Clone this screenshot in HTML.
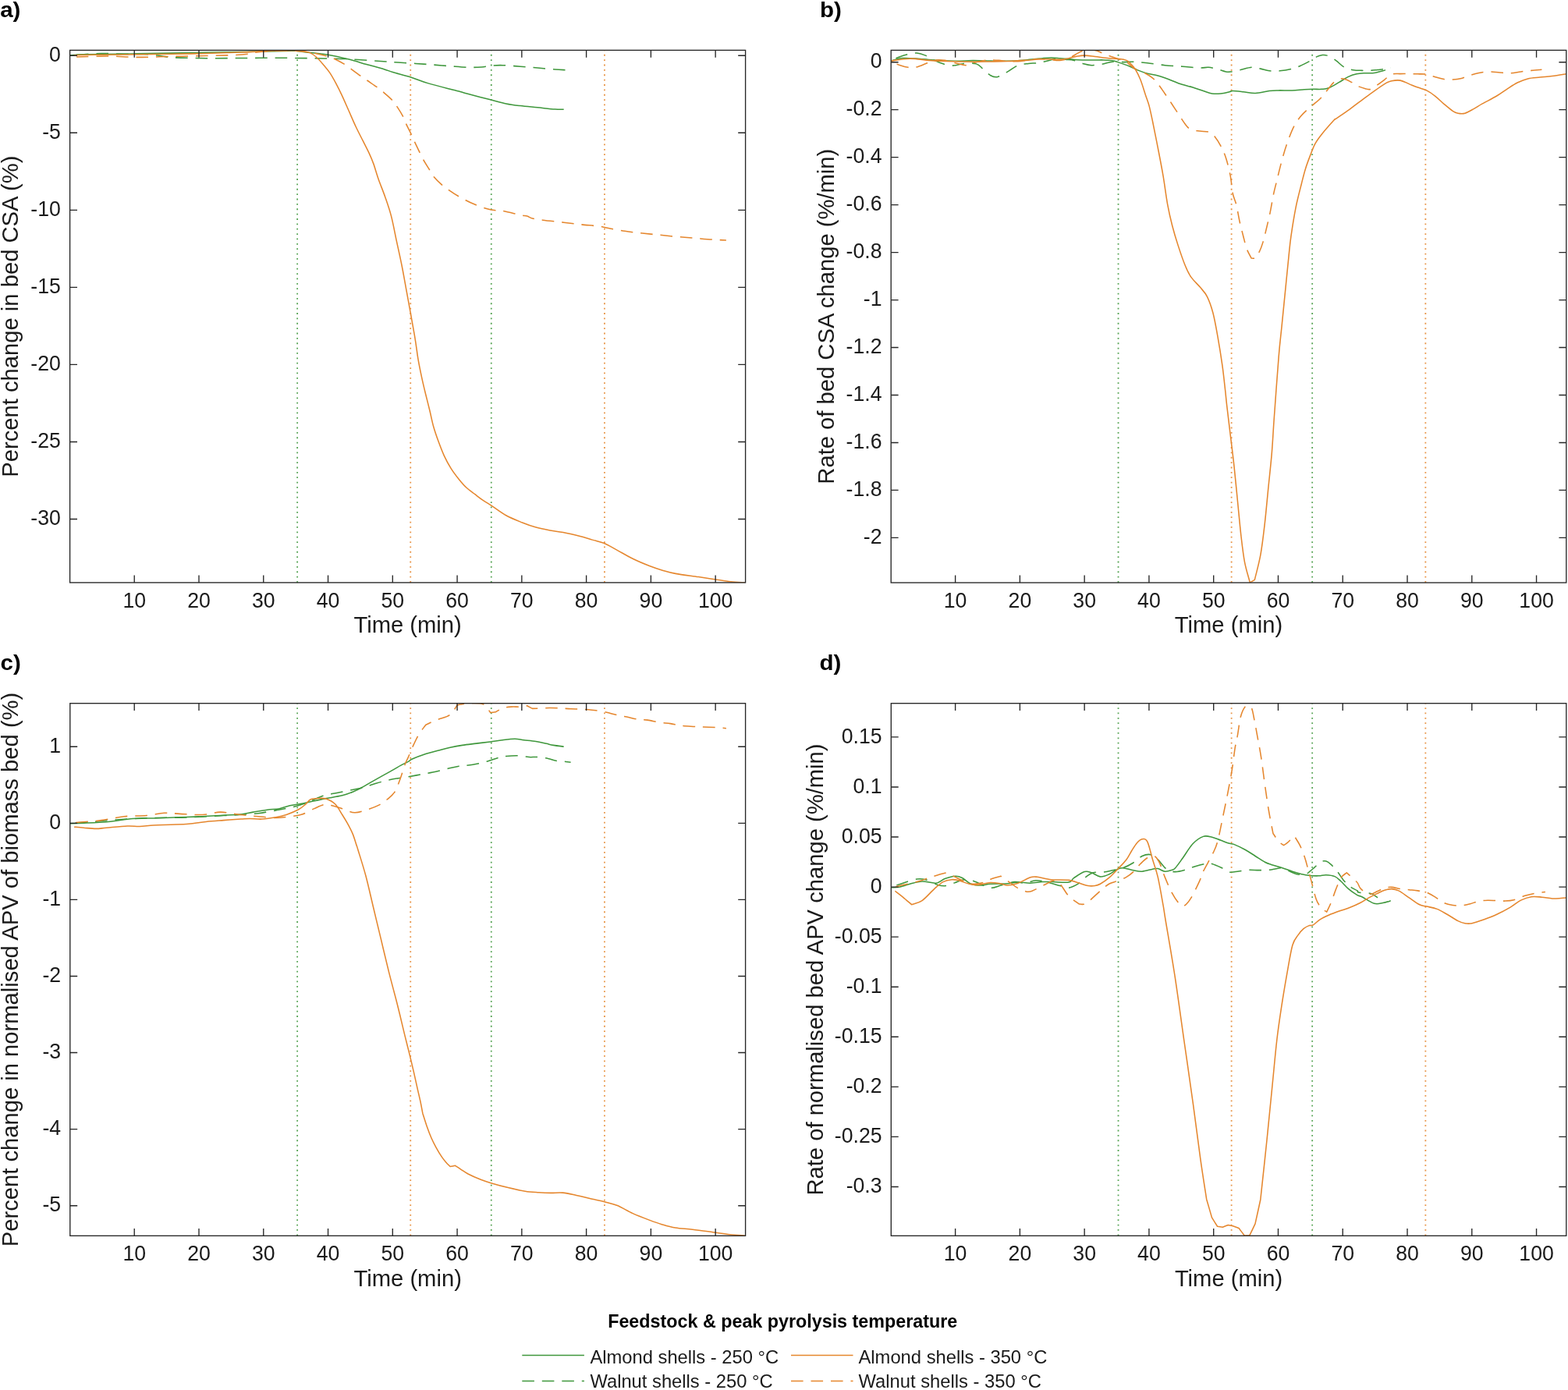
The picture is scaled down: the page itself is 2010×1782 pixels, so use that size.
<!DOCTYPE html>
<html><head><meta charset="utf-8"><title>Figure</title>
<style>html,body{margin:0;padding:0;background:#fff;width:2010px;height:1782px;overflow:hidden}svg{display:block}</style>
</head><body>
<svg width="2010" height="1782" viewBox="0 0 2010 1782">
<defs>
<clipPath id="clipa"><rect x="89.6" y="64.4" width="866" height="682.5"/></clipPath>
<clipPath id="clipb"><rect x="1142.2" y="64.4" width="865.6" height="682.6"/></clipPath>
<clipPath id="clipc"><rect x="89.8" y="901.7" width="865.8" height="682.6"/></clipPath>
<clipPath id="clipd"><rect x="1142.3" y="901.7" width="865.5" height="682.6"/></clipPath>
</defs>
<rect width="2010" height="1782" fill="#fff"/>
<g clip-path="url(#clipa)" fill="none" stroke-width="1.55">
<line x1="381.13" y1="63.5" x2="381.13" y2="746.9" stroke="#3F973C" stroke-width="1.8" stroke-opacity="0.88" stroke-dasharray="1.8 4.57"/>
<line x1="526.23" y1="63.5" x2="526.23" y2="746.9" stroke="#E5862D" stroke-width="1.8" stroke-opacity="0.88" stroke-dasharray="1.8 4.57"/>
<line x1="629.77" y1="63.5" x2="629.77" y2="746.9" stroke="#3F973C" stroke-width="1.8" stroke-opacity="0.88" stroke-dasharray="1.8 4.57"/>
<line x1="774.95" y1="63.5" x2="774.95" y2="746.9" stroke="#E5862D" stroke-width="1.8" stroke-opacity="0.88" stroke-dasharray="1.8 4.57"/>
<path d="M89.48 71.12C92.46 70.9 93.21 70.15 107.39 69.78C121.57 69.4 148.43 69.29 174.55 68.88C200.67 68.47 234.25 67.84 264.1 67.31C293.96 66.79 335 66.08 353.66 65.75C372.31 65.41 371.65 65.37 376.04 65.3C380.44 65.23 376.35 64.95 380 65.33C383.65 65.7 391.22 66.77 397.96 67.57C404.69 68.37 412.17 68.73 420.4 70.15C428.63 71.57 439.11 74.04 447.34 76.1C455.57 78.16 462.3 80.4 469.79 82.5C477.27 84.59 486.62 86.99 492.23 88.67C497.85 90.35 497.85 90.91 503.46 92.6C509.07 94.28 518.42 96.43 525.9 98.77C533.39 101.11 539.33 103.92 548.35 106.63C557.37 109.34 573.33 113.31 580 115.04C586.67 116.78 585.1 116.13 588.36 117.01C591.62 117.9 592.84 118.58 599.55 120.37C606.27 122.16 620.45 125.67 628.66 127.76C636.87 129.85 642.46 131.6 648.81 132.91C655.15 134.22 660 134.78 666.72 135.6C673.43 136.42 681.64 137.09 689.1 137.84C696.57 138.58 705.9 139.66 711.49 140.07C717.09 140.49 720.82 140.26 722.69 140.3" stroke="#3F973C" stroke-linejoin="round"/>
<path d="M89.48 70.67C92.46 70.52 100.67 70.15 107.39 69.78C114.1 69.4 122.31 68.54 129.78 68.43C137.24 68.32 144.7 68.92 152.16 69.1C159.63 69.29 167.84 69.44 174.55 69.55C181.27 69.66 186.87 69.37 192.46 69.78C198.06 70.19 202.91 71.34 208.13 72.01C213.36 72.69 214.48 73.36 223.81 73.81C233.13 74.25 249.93 74.59 264.1 74.7C278.28 74.81 293.96 74.55 308.88 74.48C323.81 74.4 338.73 74.22 353.66 74.25C368.58 74.29 383.51 74.48 398.43 74.7C413.36 74.93 428.28 74.96 443.21 75.6C458.13 76.23 476.85 77.76 487.99 78.51C499.12 79.25 502.6 79.59 510 80.07C517.4 80.56 524.93 80.93 532.39 81.42C539.85 81.9 547.31 82.43 554.78 82.99C562.24 83.54 569.7 84.22 577.16 84.78C584.63 85.34 592.84 86.16 599.55 86.34C606.27 86.53 612.24 86.27 617.46 85.9C622.69 85.52 626.42 84.48 630.9 84.1C635.37 83.73 638.36 83.47 644.33 83.66C650.3 83.84 659.25 84.66 666.72 85.22C674.18 85.78 681.64 86.38 689.1 87.01C696.57 87.65 705.52 88.58 711.49 89.03C717.46 89.48 722.69 89.59 724.93 89.7" stroke="#3F973C" stroke-dasharray="15.6 9.9" stroke-dashoffset="-8.5" stroke-linejoin="round"/>
<path d="M95.07 70.67C100.86 70.6 116.53 70.37 129.78 70.22C143.02 70.07 159.63 69.93 174.55 69.78C189.48 69.63 204.4 69.55 219.33 69.33C234.25 69.1 249.18 68.81 264.1 68.43C279.03 68.06 297.69 67.5 308.88 67.09C320.07 66.68 323.81 66.31 331.27 65.97C338.73 65.63 346.19 65.3 353.66 65.07C361.12 64.85 371.65 64.62 376.04 64.63C380.44 64.63 377.84 64.93 380 65.1C382.16 65.27 385.99 65.19 388.98 65.66C391.97 66.13 395.15 66.6 397.96 67.91C400.76 69.22 403.19 71.18 405.81 73.52C408.43 75.86 410.86 78.66 413.67 81.94C416.48 85.21 419.84 89.04 422.65 93.16C425.45 97.27 427.89 101.76 430.51 106.63C433.12 111.49 435.56 116.35 438.36 122.34C441.17 128.33 444.35 135.81 447.34 142.54C450.33 149.28 453.33 156.38 456.32 162.74C459.31 169.1 462.49 175.09 465.3 180.7C468.1 186.31 470.91 191.55 473.15 196.41C475.4 201.28 476.75 204.28 478.77 209.88C480.78 215.48 482.77 222.91 485.26 230C487.74 237.09 490.96 244.59 493.68 252.45C496.39 260.31 499.1 267.79 501.53 277.15C503.97 286.5 506.02 298.1 508.27 308.58C510.51 319.06 512.95 329.72 515 340.01C517.06 350.3 517.89 355.39 520.62 370.32C523.34 385.24 528.77 414.46 531.34 429.55C533.92 444.64 534.44 451.53 536.05 460.86C537.66 470.2 539.34 477.94 540.99 485.56C542.63 493.17 544.28 499.75 545.93 506.54C547.57 513.33 549.22 519.51 550.86 526.3C552.51 533.09 553.95 540.7 555.8 547.28C557.65 553.87 559.71 559.63 561.98 565.8C564.24 571.98 566.71 578.56 569.38 584.32C572.06 590.08 574.94 595.43 578.02 600.37C581.11 605.31 584.61 609.84 587.9 613.95C591.19 618.07 594.28 621.77 597.78 625.06C601.28 628.35 605.39 631.03 608.89 633.7C612.39 636.38 615.47 638.85 618.77 641.11C622.06 643.37 623.66 644.01 628.64 647.28C633.62 650.56 641.84 657 648.66 660.78C655.48 664.56 663.28 667.46 669.55 669.97C675.82 672.48 680.35 674.15 686.27 675.82C692.19 677.49 699.15 678.89 705.07 680C711 681.11 715.52 681.29 721.79 682.51C728.06 683.73 736.42 685.71 742.69 687.31C748.96 688.92 754.18 690.62 759.4 692.12C764.63 693.62 768.81 694.14 774.03 696.3C779.25 698.46 784.48 701.7 790.75 705.07C797.01 708.45 804.68 713.15 811.64 716.57C818.61 719.98 826.27 723.11 832.54 725.55C838.81 727.99 843.68 729.56 849.25 731.19C854.83 732.83 858.31 733.98 865.97 735.37C873.63 736.77 886.87 738.33 895.22 739.55C903.58 740.77 909.15 741.64 916.12 742.69C923.08 743.73 930.57 745.12 937.01 745.82C943.46 746.52 951.82 746.69 954.78 746.87" stroke="#E5862D" stroke-linejoin="round"/>
<path d="M97.99 72.91C105.15 72.76 128.21 71.94 140.97 72.01C153.73 72.09 161.49 73.28 174.55 73.36C187.61 73.43 204.4 72.76 219.33 72.46C234.25 72.16 251.04 71.87 264.1 71.57C277.16 71.27 288.36 71.12 297.69 70.67C307.01 70.22 314.48 69.55 320.07 68.88C325.67 68.21 325.67 67.24 331.27 66.64C336.87 66.04 346.19 65.56 353.66 65.3C361.12 65.04 368.66 64.73 376.04 65.07C383.43 65.42 390.94 66.22 397.96 67.35C404.98 68.47 413.11 70.53 418.16 71.84C423.21 73.14 424.33 73.42 428.26 75.2C432.19 76.98 438.17 80.35 441.73 82.5C445.28 84.65 446.22 85.68 449.58 88.11C452.95 90.54 458.38 94.56 461.93 97.09C465.48 99.61 467.36 100.83 470.91 103.26C474.46 105.69 479.89 109.25 483.25 111.68C486.62 114.11 487.93 115.14 491.11 117.85C494.29 120.56 499.34 124.77 502.33 127.95C505.33 131.13 506.64 133.28 509.07 136.93C511.5 140.58 515.05 146.28 516.92 149.84C518.8 153.39 518.61 154.61 520.29 158.25C521.98 161.9 525.16 167.79 527.03 171.72C528.9 175.65 529.64 177.8 531.52 181.82C533.39 185.85 536.38 192.02 538.25 195.85C540.12 199.69 540.68 201.18 542.74 204.83C544.8 208.48 548.35 214.09 550.59 217.74C552.84 221.39 553.59 223.54 556.21 226.72C558.83 229.9 563.13 234.01 566.31 236.82C569.49 239.62 571.61 241.02 575.29 243.55C578.96 246.08 582.82 248.93 588.36 252.01C593.9 255.1 601.79 259.29 608.51 262.09C615.22 264.89 622.69 267.43 628.66 268.81C634.63 270.19 637.99 269.25 644.33 270.37C650.67 271.49 661.49 274.4 666.72 275.52C671.94 276.64 673.06 276.34 675.67 277.09C678.28 277.84 679.03 279.14 682.39 280C685.75 280.86 689.1 281.38 695.82 282.24C702.54 283.1 714.48 284.22 722.69 285.15C730.9 286.08 737.61 287.01 745.07 287.84C752.54 288.66 761.87 289.33 767.46 290.07C773.06 290.82 773.06 291.27 778.66 292.31C784.25 293.36 793.58 295.22 801.04 296.34C808.51 297.46 815.97 298.21 823.43 299.03C830.9 299.85 838.36 300.52 845.82 301.27C853.28 302.01 860.75 302.84 868.21 303.51C875.67 304.18 883.13 304.7 890.6 305.3C898.06 305.9 906.27 306.64 912.99 307.09C919.7 307.54 927.91 307.84 930.9 307.99" stroke="#E5862D" stroke-dasharray="15.6 9.9" stroke-linejoin="round"/>
</g>
<g stroke="#262626" stroke-width="1.35" fill="none">
<rect x="89.6" y="64.4" width="866" height="682.5"/>
<path d="M172.22 746.9v-9.4M172.22 64.4v9.4M254.99 746.9v-9.4M254.99 64.4v9.4M337.76 746.9v-9.4M337.76 64.4v9.4M420.53 746.9v-9.4M420.53 64.4v9.4M503.3 746.9v-9.4M503.3 64.4v9.4M586.07 746.9v-9.4M586.07 64.4v9.4M668.84 746.9v-9.4M668.84 64.4v9.4M751.61 746.9v-9.4M751.61 64.4v9.4M834.38 746.9v-9.4M834.38 64.4v9.4M917.15 746.9v-9.4M917.15 64.4v9.4M89.6 71.2h9.4M955.6 71.2h-9.4M89.6 170.25h9.4M955.6 170.25h-9.4M89.6 269.3h9.4M955.6 269.3h-9.4M89.6 368.35h9.4M955.6 368.35h-9.4M89.6 467.4h9.4M955.6 467.4h-9.4M89.6 566.45h9.4M955.6 566.45h-9.4M89.6 665.5h9.4M955.6 665.5h-9.4"/>
</g>
<g font-family="Liberation Sans, Arial, Helvetica, sans-serif" font-size="26.4" fill="#1a1a1a">
<text transform="translate(172.22 778.5) scale(1.01 1.07)" text-anchor="middle">10</text>
<text transform="translate(254.99 778.5) scale(1.01 1.07)" text-anchor="middle">20</text>
<text transform="translate(337.76 778.5) scale(1.01 1.07)" text-anchor="middle">30</text>
<text transform="translate(420.53 778.5) scale(1.01 1.07)" text-anchor="middle">40</text>
<text transform="translate(503.3 778.5) scale(1.01 1.07)" text-anchor="middle">50</text>
<text transform="translate(586.07 778.5) scale(1.01 1.07)" text-anchor="middle">60</text>
<text transform="translate(668.84 778.5) scale(1.01 1.07)" text-anchor="middle">70</text>
<text transform="translate(751.61 778.5) scale(1.01 1.07)" text-anchor="middle">80</text>
<text transform="translate(834.38 778.5) scale(1.01 1.07)" text-anchor="middle">90</text>
<text transform="translate(917.15 778.5) scale(1.01 1.07)" text-anchor="middle">100</text>
<text transform="translate(77.9 78.8) scale(1.01 1.07)" text-anchor="end">0</text>
<text transform="translate(77.9 177.85) scale(1.01 1.07)" text-anchor="end">-5</text>
<text transform="translate(77.9 276.9) scale(1.01 1.07)" text-anchor="end">-10</text>
<text transform="translate(77.9 375.95) scale(1.01 1.07)" text-anchor="end">-15</text>
<text transform="translate(77.9 475) scale(1.01 1.07)" text-anchor="end">-20</text>
<text transform="translate(77.9 574.05) scale(1.01 1.07)" text-anchor="end">-25</text>
<text transform="translate(77.9 673.1) scale(1.01 1.07)" text-anchor="end">-30</text>
</g>
<g font-family="Liberation Sans, Arial, Helvetica, sans-serif" font-size="29.2" fill="#1a1a1a">
<text transform="translate(522.6 811.3) scale(1 1.03)" text-anchor="middle">Time (min)</text>
<text transform="translate(23.4 405.65) rotate(-90) scale(1 1.03)" text-anchor="middle">Percent change in bed CSA (%)</text>
</g>
<text transform="translate(0.2 21.9) scale(1.04 1)" font-family="Liberation Sans, Arial, Helvetica, sans-serif" font-size="28.4" font-weight="bold" fill="#000">a)</text>
<g clip-path="url(#clipb)" fill="none" stroke-width="1.55">
<line x1="1433.53" y1="63.5" x2="1433.53" y2="747" stroke="#3F973C" stroke-width="1.8" stroke-opacity="0.88" stroke-dasharray="1.8 4.57"/>
<line x1="1578.63" y1="63.5" x2="1578.63" y2="747" stroke="#E5862D" stroke-width="1.8" stroke-opacity="0.88" stroke-dasharray="1.8 4.57"/>
<line x1="1682.17" y1="63.5" x2="1682.17" y2="747" stroke="#3F973C" stroke-width="1.8" stroke-opacity="0.88" stroke-dasharray="1.8 4.57"/>
<line x1="1827.35" y1="63.5" x2="1827.35" y2="747" stroke="#E5862D" stroke-width="1.8" stroke-opacity="0.88" stroke-dasharray="1.8 4.57"/>
<path d="M1142.16 78.06C1144.7 77.46 1151.12 74.89 1157.39 74.48C1163.66 74.07 1172.31 75.11 1179.78 75.6C1187.24 76.08 1194.7 76.94 1202.16 77.39C1209.63 77.84 1217.09 78.25 1224.55 78.28C1232.01 78.32 1239.48 77.65 1246.94 77.61C1254.4 77.57 1261.87 77.95 1269.33 78.06C1276.79 78.17 1284.25 78.47 1291.72 78.28C1299.18 78.1 1306.64 77.54 1314.1 76.94C1321.57 76.34 1330.9 75.19 1336.49 74.7C1342.09 74.22 1343.96 74.03 1347.69 74.03C1351.42 74.03 1355.15 74.44 1358.88 74.7C1362.61 74.96 1366.34 75.26 1370.07 75.6C1373.81 75.93 1375.67 76.49 1381.27 76.72C1386.87 76.94 1398.06 76.9 1403.66 76.94C1409.25 76.98 1411.12 76.79 1414.85 76.94C1418.58 77.09 1423.06 77.39 1426.04 77.84C1429.03 78.28 1429.03 78.4 1432.76 79.63C1436.49 80.86 1443.96 83.43 1448.43 85.22C1452.91 87.01 1455.9 88.88 1459.63 90.37C1463.36 91.87 1466.72 93.06 1470.82 94.18C1474.93 95.3 1479.78 95.86 1484.25 97.09C1488.73 98.32 1493.21 99.93 1497.69 101.57C1502.16 103.21 1505.9 105.19 1511.12 106.94C1516.34 108.69 1523.81 110.49 1529.03 112.09C1534.25 113.69 1538.36 115.26 1542.46 116.57C1546.57 117.87 1549.93 119.37 1553.66 119.93C1557.39 120.49 1561.12 120.3 1564.85 119.93C1568.58 119.55 1573.5 118.25 1576.04 117.69C1578.59 117.13 1577.23 116.57 1580.15 116.57C1583.07 116.57 1588.73 117.2 1593.58 117.69C1598.43 118.17 1603.66 119.66 1609.25 119.48C1614.85 119.29 1622.31 117.16 1627.16 116.57C1632.01 115.97 1633.51 116.01 1638.36 115.9C1643.21 115.78 1650.67 116.08 1656.27 115.9C1661.87 115.71 1667.46 115.04 1671.94 114.78C1676.42 114.51 1679.4 114.4 1683.13 114.33C1686.87 114.25 1690.97 114.59 1694.33 114.33C1697.69 114.07 1699.55 114.25 1703.28 112.76C1707.01 111.27 1712.61 107.72 1716.72 105.37C1720.82 103.02 1724.18 100.41 1727.91 98.66C1731.64 96.9 1735.37 95.67 1739.1 94.85C1742.84 94.03 1746.57 93.96 1750.3 93.73C1754.03 93.51 1757.76 93.99 1761.49 93.51C1765.22 93.02 1770.26 91.46 1772.69 90.82C1775.11 90.19 1775.49 89.89 1776.04 89.7" stroke="#3F973C" stroke-linejoin="round"/>
<path d="M1142.16 77.39C1143.96 76.64 1149.25 74.22 1152.91 72.91C1156.57 71.6 1160.37 70.37 1164.1 69.55C1167.84 68.73 1171.57 67.72 1175.3 67.99C1179.03 68.25 1182.76 69.55 1186.49 71.12C1190.22 72.69 1193.96 75.6 1197.69 77.39C1201.42 79.18 1204.78 80.75 1208.88 81.87C1212.99 82.99 1217.84 84.18 1222.31 84.1C1226.79 84.03 1230.9 81.79 1235.75 81.42C1240.6 81.04 1247.31 80.67 1251.42 81.87C1255.52 83.06 1257.39 86.16 1260.37 88.58C1263.36 91.01 1266.34 94.74 1269.33 96.42C1272.31 98.1 1274.55 99.4 1278.28 98.66C1282.01 97.91 1287.24 94.44 1291.72 91.94C1296.19 89.44 1300.67 85.41 1305.15 83.66C1309.63 81.9 1314.48 81.9 1318.58 81.42C1322.69 80.93 1326.04 81.23 1329.78 80.75C1333.51 80.26 1336.87 79.44 1340.97 78.51C1345.07 77.57 1350.3 75.52 1354.4 75.15C1358.51 74.78 1361.87 75.9 1365.6 76.27C1369.33 76.64 1373.06 76.53 1376.79 77.39C1380.52 78.25 1384.25 80.37 1387.99 81.42C1391.72 82.46 1395.07 83.51 1399.18 83.66C1403.28 83.81 1408.13 83.06 1412.61 82.31C1417.09 81.57 1421.57 79.63 1426.04 79.18C1430.52 78.73 1435 79.63 1439.48 79.63C1443.96 79.63 1447.69 78.99 1452.91 79.18C1458.13 79.37 1464.1 80 1470.82 80.75C1477.54 81.49 1485.75 82.91 1493.21 83.66C1500.67 84.4 1508.13 84.66 1515.6 85.22C1523.06 85.78 1532.39 86.83 1537.99 87.01C1543.58 87.2 1545.45 86.08 1549.18 86.34C1552.91 86.6 1556.64 87.65 1560.37 88.58C1564.1 89.51 1568.64 91.38 1571.57 91.94C1574.49 92.5 1574.99 92.31 1577.91 91.94C1580.83 91.57 1584.63 90.63 1589.1 89.7C1593.58 88.77 1600.3 86.6 1604.78 86.34C1609.25 86.08 1612.24 87.39 1615.97 88.13C1619.7 88.88 1623.06 90.37 1627.16 90.82C1631.27 91.27 1635.75 91.27 1640.6 90.82C1645.45 90.37 1651.79 89.25 1656.27 88.13C1660.75 87.01 1663.73 85.71 1667.46 84.1C1671.19 82.5 1675.3 80.37 1678.66 78.51C1682.01 76.64 1685 74.22 1687.61 72.91C1690.22 71.6 1692.09 70.97 1694.33 70.67C1696.57 70.37 1698.06 70 1701.04 71.12C1704.03 72.24 1708.51 74.85 1712.24 77.39C1715.97 79.93 1719.7 84.29 1723.43 86.34C1727.16 88.4 1730.9 89.03 1734.63 89.7C1738.36 90.37 1742.09 90.26 1745.82 90.37C1749.55 90.49 1753.66 90.52 1757.01 90.37C1760.37 90.22 1762.99 89.78 1765.97 89.48C1768.96 89.18 1772.13 88.99 1774.93 88.58C1777.72 88.17 1781.46 87.28 1782.76 87.01" stroke="#3F973C" stroke-dasharray="15.6 9.9" stroke-dashoffset="-6.8" stroke-linejoin="round"/>
<path d="M1142.16 78.06C1146.19 77.57 1158.21 75.26 1166.34 75.15C1174.48 75.04 1183.13 76.83 1190.97 77.39C1198.81 77.95 1204.03 78.21 1213.36 78.51C1222.69 78.81 1237.61 79.1 1246.94 79.18C1256.27 79.25 1261.87 79.07 1269.33 78.96C1276.79 78.84 1284.25 78.77 1291.72 78.51C1299.18 78.25 1306.64 77.84 1314.1 77.39C1321.57 76.94 1329.03 76.01 1336.49 75.82C1343.96 75.63 1353.28 76.46 1358.88 76.27C1364.48 76.08 1366.34 75.41 1370.07 74.7C1373.81 73.99 1377.91 72.61 1381.27 72.01C1384.63 71.42 1386.49 71.04 1390.22 71.12C1393.96 71.19 1398.43 71.87 1403.66 72.46C1408.88 73.06 1416.34 74.18 1421.57 74.7C1426.79 75.22 1431.27 75.15 1435 75.6C1438.73 76.04 1441.72 76.53 1443.96 77.39C1446.19 78.25 1446.57 78.88 1448.43 80.75C1450.3 82.61 1452.91 85.04 1455.15 88.58C1457.39 92.13 1459.63 96.42 1461.87 102.01C1464.1 107.61 1466.72 116.57 1468.58 122.16C1470.45 127.76 1471.57 130 1473.06 135.6C1474.55 141.19 1475.67 146.79 1477.54 155.75C1479.4 164.7 1482.01 177.76 1484.25 189.33C1486.49 200.9 1488.89 212.97 1490.97 225.15C1493.05 237.33 1494.76 251.7 1496.72 262.39C1498.67 273.07 1500.45 280.55 1502.69 289.25C1504.93 297.96 1507.41 306.17 1510.15 314.63C1512.89 323.08 1516.37 333.28 1519.1 340C1521.84 346.72 1523.33 350.2 1526.57 354.93C1529.8 359.65 1535.02 364.13 1538.51 368.36C1541.99 372.59 1544.73 374.83 1547.46 380.3C1550.2 385.77 1552.69 392.74 1554.93 401.19C1557.16 409.65 1558.91 419.85 1560.9 431.04C1562.89 442.24 1565.25 456.87 1566.87 468.36C1568.48 479.85 1569.62 491.34 1570.6 500C1571.57 508.66 1571.61 510.61 1572.73 520.3C1573.84 530 1575.76 545.56 1577.27 558.18C1578.79 570.81 1580.3 582.17 1581.82 596.06C1583.33 609.95 1584.85 626.36 1586.36 641.52C1587.88 656.67 1589.39 673.84 1590.91 686.97C1592.42 700.1 1593.56 710.33 1595.45 720.3C1597.35 730.28 1600.23 738.86 1602.27 746.82C1604.09 745.77 1606.52 744.38 1608.33 743.33C1610.61 733.7 1613.76 723.13 1615.91 711.21C1618.06 699.29 1619.57 685.96 1621.21 671.82C1622.85 657.68 1624.24 641.52 1625.76 626.36C1627.27 611.21 1629.04 596.06 1630.3 580.91C1631.57 565.76 1631.84 556.2 1633.33 535.45C1634.83 514.71 1637.65 475.81 1639.25 456.42C1640.86 437.03 1641.62 432.79 1642.99 419.1C1644.35 405.42 1645.97 389.25 1647.46 374.33C1648.96 359.4 1650.69 341.47 1651.94 329.55C1653.19 317.64 1653.41 313.46 1654.94 302.84C1656.47 292.21 1658.85 277.12 1661.11 265.8C1663.37 254.49 1666.46 243.17 1668.52 234.94C1670.58 226.71 1671.6 222.39 1673.46 216.42C1675.31 210.45 1677.57 204.49 1679.63 199.14C1681.69 193.79 1683.33 188.85 1685.8 184.32C1688.27 179.79 1690.41 177.02 1694.44 171.98C1698.48 166.93 1707.03 157.34 1710 154.07C1712.97 150.81 1708.88 154.72 1712.24 152.39C1715.6 150.05 1723.43 144.93 1730.15 140.07C1736.87 135.22 1745.07 128.69 1752.54 123.28C1760 117.87 1769.7 110.86 1774.93 107.61C1780.15 104.37 1780.52 104.55 1783.88 103.81C1787.24 103.06 1791.34 102.5 1795.07 103.13C1798.81 103.77 1802.54 106.12 1806.27 107.61C1810 109.1 1813.73 110.71 1817.46 112.09C1821.19 113.47 1824.93 114.03 1828.66 115.9C1832.39 117.76 1836.12 120.37 1839.85 123.28C1843.58 126.19 1847.31 130.19 1851.04 133.36C1854.78 136.53 1859.25 140.34 1862.24 142.31C1865.22 144.29 1866.34 144.74 1868.96 145.22C1871.57 145.71 1874.55 146.16 1877.91 145.22C1881.27 144.29 1885.37 141.68 1889.1 139.63C1892.84 137.57 1895.45 135.63 1900.3 132.91C1905.15 130.19 1912.99 126.38 1918.21 123.28C1923.43 120.19 1927.16 117.2 1931.64 114.33C1936.12 111.46 1940.6 108.28 1945.07 106.04C1949.55 103.81 1953.66 102.05 1958.51 100.9C1963.36 99.74 1968.96 99.66 1974.18 99.1C1979.4 98.54 1984.07 98.28 1989.85 97.54C1995.63 96.79 2005.71 95.11 2008.88 94.63" stroke="#E5862D" stroke-linejoin="round"/>
<path d="M1149.55 82.31C1151.98 82.99 1159.81 85.75 1164.1 86.34C1168.4 86.94 1171.19 86.83 1175.3 85.9C1179.4 84.96 1184.63 82.24 1188.73 80.75C1192.84 79.25 1196.19 77.5 1199.93 76.94C1203.66 76.38 1207.01 76.75 1211.12 77.39C1215.22 78.02 1220.07 79.7 1224.55 80.75C1229.03 81.79 1234.25 83.66 1237.99 83.66C1241.72 83.66 1243.21 81.72 1246.94 80.75C1250.67 79.78 1256.64 78.47 1260.37 77.84C1264.1 77.2 1265.97 77.01 1269.33 76.94C1272.69 76.87 1276.79 77.13 1280.52 77.39C1284.25 77.65 1287.61 78.28 1291.72 78.51C1295.82 78.73 1300.67 78.99 1305.15 78.73C1309.63 78.47 1314.1 77.46 1318.58 76.94C1323.06 76.42 1327.54 75.67 1332.01 75.6C1336.49 75.52 1340.97 76.19 1345.45 76.49C1349.93 76.79 1354.78 77.69 1358.88 77.39C1362.99 77.09 1366.34 76.19 1370.07 74.7C1373.81 73.21 1378.28 70.04 1381.27 68.43C1384.25 66.83 1385.37 65.9 1387.99 65.07C1390.6 64.25 1393.96 63.51 1396.94 63.51C1399.93 63.51 1402.16 63.88 1405.9 65.07C1409.63 66.27 1414.85 68.99 1419.33 70.67C1423.81 72.35 1428.66 73.66 1432.76 75.15C1436.87 76.64 1440.22 77.39 1443.96 79.63C1447.69 81.87 1451.42 86.34 1455.15 88.58C1458.88 90.82 1462.24 90.82 1466.34 93.06C1470.45 95.3 1475.3 97.54 1479.78 102.01C1484.25 106.49 1488.73 113.58 1493.21 119.93C1497.69 126.27 1502.16 133.36 1506.64 140.07C1511.12 146.79 1516.72 155.93 1520.07 160.22C1523.43 164.51 1523.81 164.51 1526.79 165.82C1529.78 167.13 1534.25 167.5 1537.99 168.06C1541.72 168.62 1546.19 168.25 1549.18 169.18C1552.16 170.11 1553.28 170.67 1555.9 173.66C1558.51 176.64 1562.24 182.24 1564.85 187.09C1567.46 191.94 1569.51 196.42 1571.57 202.76C1573.62 209.1 1575.71 217.57 1577.16 225.15C1578.62 232.72 1579.03 242 1580.3 248.21C1581.57 254.42 1583.28 256.29 1584.78 262.39C1586.27 268.48 1587.76 278.06 1589.25 284.78C1590.75 291.49 1592.24 296.97 1593.73 302.69C1595.22 308.41 1596.47 314.38 1598.21 319.1C1599.95 323.83 1602.39 327.46 1604.18 331.04C1605.52 331.13 1607.31 331.25 1608.66 331.34C1610.45 328.57 1612.89 325.62 1614.63 322.09C1616.37 318.56 1617.61 315.12 1619.1 310.15C1620.6 305.17 1622.09 298.46 1623.58 292.24C1625.07 286.02 1626.57 280.05 1628.06 272.84C1629.55 265.62 1631.19 255.41 1632.54 248.96C1633.88 242.5 1634.4 241.06 1636.12 234.1C1637.84 227.15 1640.6 215.45 1642.84 207.24C1645.07 199.03 1646.94 192.31 1649.55 184.85C1652.16 177.39 1655.52 168.43 1658.51 162.46C1661.49 156.49 1664.48 152.76 1667.46 149.03C1670.45 145.3 1673.81 142.5 1676.42 140.07C1679.03 137.65 1680.15 137.09 1683.13 134.48C1686.12 131.87 1690.97 127.95 1694.33 124.4C1697.69 120.86 1700.67 116.38 1703.28 113.21C1705.9 110.04 1707.39 107.43 1710 105.37C1712.61 103.32 1716.34 101.46 1718.96 100.9C1721.57 100.34 1723.43 101.27 1725.67 102.01C1727.91 102.76 1730.15 104.07 1732.39 105.37C1734.63 106.68 1736.12 108.47 1739.1 109.85C1742.09 111.23 1747.31 112.91 1750.3 113.66C1753.28 114.4 1754.4 115.15 1757.01 114.33C1759.63 113.51 1762.99 110.78 1765.97 108.73C1768.96 106.68 1771.94 104.25 1774.93 102.01C1777.91 99.78 1780.52 96.53 1783.88 95.3C1787.24 94.07 1791.34 94.74 1795.07 94.63C1798.81 94.51 1802.54 94.59 1806.27 94.63C1810 94.66 1813.73 94.74 1817.46 94.85C1821.19 94.96 1824.93 94.66 1828.66 95.3C1832.39 95.93 1836.12 97.61 1839.85 98.66C1843.58 99.7 1847.31 101.01 1851.04 101.57C1854.78 102.13 1858.51 102.2 1862.24 102.01C1865.97 101.83 1869.7 101.38 1873.43 100.45C1877.16 99.51 1880.9 97.57 1884.63 96.42C1888.36 95.26 1891.72 94.25 1895.82 93.51C1899.93 92.76 1904.78 92.01 1909.25 91.94C1913.73 91.87 1918.21 92.76 1922.69 93.06C1927.16 93.36 1931.64 93.92 1936.12 93.73C1940.6 93.54 1945.07 92.5 1949.55 91.94C1954.03 91.38 1958.51 90.82 1962.99 90.37C1967.46 89.93 1974.18 89.44 1976.42 89.25" stroke="#E5862D" stroke-dasharray="15.6 9.9" stroke-linejoin="round"/>
</g>
<g stroke="#262626" stroke-width="1.35" fill="none">
<rect x="1142.2" y="64.4" width="865.6" height="682.6"/>
<path d="M1224.62 747v-9.4M1224.62 64.4v9.4M1307.39 747v-9.4M1307.39 64.4v9.4M1390.16 747v-9.4M1390.16 64.4v9.4M1472.93 747v-9.4M1472.93 64.4v9.4M1555.7 747v-9.4M1555.7 64.4v9.4M1638.47 747v-9.4M1638.47 64.4v9.4M1721.24 747v-9.4M1721.24 64.4v9.4M1804.01 747v-9.4M1804.01 64.4v9.4M1886.78 747v-9.4M1886.78 64.4v9.4M1969.55 747v-9.4M1969.55 64.4v9.4M1142.2 79.7h9.4M2007.8 79.7h-9.4M1142.2 140.67h9.4M2007.8 140.67h-9.4M1142.2 201.64h9.4M2007.8 201.64h-9.4M1142.2 262.61h9.4M2007.8 262.61h-9.4M1142.2 323.58h9.4M2007.8 323.58h-9.4M1142.2 384.55h9.4M2007.8 384.55h-9.4M1142.2 445.52h9.4M2007.8 445.52h-9.4M1142.2 506.49h9.4M2007.8 506.49h-9.4M1142.2 567.46h9.4M2007.8 567.46h-9.4M1142.2 628.43h9.4M2007.8 628.43h-9.4M1142.2 689.4h9.4M2007.8 689.4h-9.4"/>
</g>
<g font-family="Liberation Sans, Arial, Helvetica, sans-serif" font-size="26.4" fill="#1a1a1a">
<text transform="translate(1224.62 778.6) scale(1.01 1.07)" text-anchor="middle">10</text>
<text transform="translate(1307.39 778.6) scale(1.01 1.07)" text-anchor="middle">20</text>
<text transform="translate(1390.16 778.6) scale(1.01 1.07)" text-anchor="middle">30</text>
<text transform="translate(1472.93 778.6) scale(1.01 1.07)" text-anchor="middle">40</text>
<text transform="translate(1555.7 778.6) scale(1.01 1.07)" text-anchor="middle">50</text>
<text transform="translate(1638.47 778.6) scale(1.01 1.07)" text-anchor="middle">60</text>
<text transform="translate(1721.24 778.6) scale(1.01 1.07)" text-anchor="middle">70</text>
<text transform="translate(1804.01 778.6) scale(1.01 1.07)" text-anchor="middle">80</text>
<text transform="translate(1886.78 778.6) scale(1.01 1.07)" text-anchor="middle">90</text>
<text transform="translate(1969.55 778.6) scale(1.01 1.07)" text-anchor="middle">100</text>
<text transform="translate(1130.5 87.3) scale(1.01 1.07)" text-anchor="end">0</text>
<text transform="translate(1130.5 148.27) scale(1.01 1.07)" text-anchor="end">-0.2</text>
<text transform="translate(1130.5 209.24) scale(1.01 1.07)" text-anchor="end">-0.4</text>
<text transform="translate(1130.5 270.21) scale(1.01 1.07)" text-anchor="end">-0.6</text>
<text transform="translate(1130.5 331.18) scale(1.01 1.07)" text-anchor="end">-0.8</text>
<text transform="translate(1130.5 392.15) scale(1.01 1.07)" text-anchor="end">-1</text>
<text transform="translate(1130.5 453.12) scale(1.01 1.07)" text-anchor="end">-1.2</text>
<text transform="translate(1130.5 514.09) scale(1.01 1.07)" text-anchor="end">-1.4</text>
<text transform="translate(1130.5 575.06) scale(1.01 1.07)" text-anchor="end">-1.6</text>
<text transform="translate(1130.5 636.03) scale(1.01 1.07)" text-anchor="end">-1.8</text>
<text transform="translate(1130.5 697) scale(1.01 1.07)" text-anchor="end">-2</text>
</g>
<g font-family="Liberation Sans, Arial, Helvetica, sans-serif" font-size="29.2" fill="#1a1a1a">
<text transform="translate(1575 811.4) scale(1 1.03)" text-anchor="middle">Time (min)</text>
<text transform="translate(1069.1 405.7) rotate(-90) scale(1 1.03)" text-anchor="middle">Rate of bed CSA change (%/min)</text>
</g>
<text transform="translate(1051 21.9) scale(1.04 1)" font-family="Liberation Sans, Arial, Helvetica, sans-serif" font-size="28.4" font-weight="bold" fill="#000">b)</text>
<g clip-path="url(#clipc)" fill="none" stroke-width="1.55">
<line x1="381.13" y1="900.8" x2="381.13" y2="1584.3" stroke="#3F973C" stroke-width="1.8" stroke-opacity="0.88" stroke-dasharray="1.8 4.57"/>
<line x1="526.23" y1="900.8" x2="526.23" y2="1584.3" stroke="#E5862D" stroke-width="1.8" stroke-opacity="0.88" stroke-dasharray="1.8 4.57"/>
<line x1="629.77" y1="900.8" x2="629.77" y2="1584.3" stroke="#3F973C" stroke-width="1.8" stroke-opacity="0.88" stroke-dasharray="1.8 4.57"/>
<line x1="774.95" y1="900.8" x2="774.95" y2="1584.3" stroke="#E5862D" stroke-width="1.8" stroke-opacity="0.88" stroke-dasharray="1.8 4.57"/>
<path d="M89.48 1055.67C92.46 1055.6 99.18 1055.6 107.39 1055.22C115.6 1054.85 128.28 1054.4 138.73 1053.43C149.18 1052.46 160.37 1050.15 170.07 1049.4C179.78 1048.66 187.24 1049.22 196.94 1048.96C206.64 1048.69 217.84 1048.21 228.28 1047.84C238.73 1047.46 249.93 1047.16 259.63 1046.72C269.33 1046.27 278.28 1045.6 286.49 1045.15C294.7 1044.7 302.54 1044.7 308.88 1044.03C315.22 1043.36 318.96 1042.09 324.55 1041.12C330.15 1040.15 336.87 1038.96 342.46 1038.21C348.06 1037.46 353.28 1037.54 358.13 1036.64C362.99 1035.75 367.09 1033.84 371.57 1032.84C376.04 1031.83 380.52 1031.46 385 1030.6C389.48 1029.74 393.21 1028.81 398.43 1027.69C403.66 1026.57 409.63 1025.19 416.34 1023.88C423.06 1022.57 432.39 1021.46 438.73 1019.85C445.07 1018.25 449.93 1016.12 454.4 1014.25C458.88 1012.39 461.49 1010.9 465.6 1008.66C469.7 1006.42 473.43 1003.99 479.03 1000.82C484.63 997.65 493.21 992.99 499.18 989.63C505.15 986.27 510.75 982.91 514.85 980.67C518.96 978.43 521.63 977.43 523.81 976.19C525.98 974.96 524.61 974.78 527.91 973.28C531.21 971.79 537.61 969.18 543.58 967.24C549.55 965.3 558.13 963.13 563.73 961.64C569.33 960.15 572.31 959.33 577.16 958.28C582.01 957.24 587.24 956.23 592.84 955.37C598.43 954.51 604.78 953.88 610.75 953.13C616.72 952.39 623.06 951.64 628.66 950.9C634.25 950.15 639.1 949.25 644.33 948.66C649.55 948.06 655.52 947.31 660 947.31C664.48 947.31 666.72 948.13 671.19 948.66C675.67 949.18 682.01 949.66 686.87 950.45C691.72 951.23 696.57 952.54 700.3 953.36C704.03 954.18 705.52 954.74 709.25 955.37C712.99 956.01 720.45 956.87 722.69 957.16" stroke="#3F973C" stroke-linejoin="round"/>
<path d="M89.48 1055.67C94.33 1055.3 108.13 1054.25 118.58 1053.43C129.03 1052.61 139.1 1051.57 152.16 1050.75C165.22 1049.93 182.01 1048.99 196.94 1048.51C211.87 1048.02 226.79 1048.32 241.72 1047.84C256.64 1047.35 274.18 1046.23 286.49 1045.6C298.81 1044.96 308.13 1044.51 315.6 1044.03C323.06 1043.54 324.93 1043.54 331.27 1042.69C337.61 1041.83 346.19 1040.26 353.66 1038.88C361.12 1037.5 369.33 1036.08 376.04 1034.4C382.76 1032.72 387.61 1031.16 393.96 1028.81C400.3 1026.46 407.76 1022.35 414.1 1020.3C420.45 1018.25 425.3 1017.87 432.01 1016.49C438.73 1015.11 448.81 1013.13 454.4 1012.01C460 1010.9 461.49 1010.9 465.6 1009.78C469.7 1008.66 473.43 1006.98 479.03 1005.3C484.63 1003.62 491.72 1001.31 499.18 999.7C506.64 998.1 517.15 996.79 523.81 995.67C530.46 994.55 533.94 993.92 539.1 992.99C544.27 992.05 549.18 991.27 554.78 990.07C560.37 988.88 567.09 987.13 572.69 985.82C578.28 984.51 582.76 983.17 588.36 982.24C593.96 981.31 600.3 981.23 606.27 980.22C612.24 979.22 618.58 977.72 624.18 976.19C629.78 974.66 635.75 972.16 639.85 971.04C643.96 969.93 644.7 969.85 648.81 969.48C652.91 969.1 659.63 968.62 664.48 968.81C669.33 968.99 673.81 970.3 677.91 970.6C682.01 970.9 685 970.3 689.1 970.6C693.21 970.9 698.81 971.64 702.54 972.39C706.27 973.13 708.13 974.44 711.49 975.07C714.85 975.71 719.33 975.82 722.69 976.19C726.04 976.57 730.15 977.13 731.64 977.31" stroke="#3F973C" stroke-dasharray="15.6 9.9" stroke-dashoffset="-7.2" stroke-linejoin="round"/>
<path d="M95.07 1060.15C97.13 1060.34 102.72 1060.9 107.39 1061.27C112.05 1061.64 118.21 1062.39 123.06 1062.39C127.91 1062.39 129.78 1061.83 136.49 1061.27C143.21 1060.71 156.27 1059.33 163.36 1059.03C170.45 1058.73 173.43 1059.66 179.03 1059.48C184.63 1059.29 190.22 1058.28 196.94 1057.91C203.66 1057.54 211.87 1057.5 219.33 1057.24C226.79 1056.98 234.25 1056.98 241.72 1056.34C249.18 1055.71 256.64 1054.22 264.1 1053.43C271.57 1052.65 279.03 1052.2 286.49 1051.64C293.96 1051.08 303.28 1050.45 308.88 1050.07C314.48 1049.7 315.6 1049.4 320.07 1049.4C324.55 1049.4 330.15 1050.34 335.75 1050.07C341.34 1049.81 348.43 1048.77 353.66 1047.84C358.88 1046.9 362.24 1046.16 367.09 1044.48C371.94 1042.8 378.66 1040 382.76 1037.76C386.87 1035.52 389.1 1033.21 391.72 1031.04C394.33 1028.88 395.45 1026.04 398.43 1024.78C401.42 1023.51 406.27 1023.51 409.63 1023.43C412.99 1023.36 415.22 1023.06 418.58 1024.33C421.94 1025.6 426.42 1027.69 429.78 1031.04C433.13 1034.4 436.12 1040.37 438.73 1044.48C441.34 1048.58 443.21 1051.57 445.45 1055.67C447.69 1059.78 450.3 1064.63 452.16 1069.1C454.03 1073.58 455.49 1079.05 456.64 1082.54C457.79 1086.02 457.03 1083.33 459.06 1090C461.09 1096.67 465.57 1110.34 468.82 1122.55C472.07 1134.75 475.33 1149.67 478.58 1163.23C481.84 1176.79 485.09 1190.35 488.35 1203.91C491.6 1217.47 494.86 1231.58 498.11 1244.6C501.37 1257.62 505.5 1272.79 507.88 1282.03C510.25 1291.26 510.54 1292.49 512.37 1300C514.2 1307.51 516.78 1318.65 518.85 1327.09C520.91 1335.53 522.77 1342.6 524.73 1350.65C526.7 1358.7 528.86 1367.73 530.62 1375.38C532.39 1383.04 533.96 1390.5 535.34 1396.58C536.71 1402.67 537.79 1406.79 538.87 1411.9C539.95 1417 540.93 1422.61 541.81 1427.21C543.4 1432.16 545.25 1438.4 547.11 1443.7C548.98 1449 551.04 1454.5 553 1459.01C554.97 1463.53 556.73 1466.86 558.89 1470.79C561.05 1474.72 563.8 1479.33 565.96 1482.57C568.12 1485.81 569.98 1488.06 571.85 1490.22C573.71 1492.38 575.56 1493.93 577.15 1495.52C579.09 1495.17 581.68 1494.7 583.63 1494.35C585.75 1495.76 587.97 1497.29 590.69 1499.06C593.42 1500.82 595.73 1502.74 600 1504.95C604.27 1507.15 611.41 1510.34 616.32 1512.29C621.23 1514.24 623.62 1514.95 629.45 1516.67C635.29 1518.38 644.05 1520.83 651.34 1522.58C658.64 1524.33 666.67 1526.15 673.23 1527.17C679.8 1528.2 685.27 1528.34 690.75 1528.71C696.22 1529.07 700.96 1529.29 706.07 1529.36C711.18 1529.44 715.92 1528.63 721.39 1529.14C726.87 1529.66 732.34 1531.04 738.91 1532.43C745.47 1533.81 754.78 1536.08 760.8 1537.46C766.82 1538.85 769.92 1539.4 775.02 1540.75C780.13 1542.1 785.42 1543.08 791.44 1545.56C797.46 1548.04 804.21 1552.49 811.14 1555.63C818.08 1558.77 826.83 1562.05 833.03 1564.39C839.24 1566.72 842.89 1568.04 848.36 1569.64C853.83 1571.25 859.3 1572.93 865.87 1574.02C872.44 1575.11 879.73 1575.26 887.76 1576.21C895.79 1577.16 906 1578.62 914.03 1579.71C922.06 1580.81 929.17 1582.05 935.92 1582.78C942.67 1583.51 951.43 1583.87 954.53 1584.09" stroke="#E5862D" stroke-linejoin="round"/>
<path d="M97.31 1054.55C102.72 1054.07 119.51 1052.95 129.78 1051.64C140.04 1050.34 149.18 1047.72 158.88 1046.72C168.58 1045.71 179.4 1046.34 187.99 1045.6C196.57 1044.85 203.28 1042.61 210.37 1042.24C217.46 1041.87 222.31 1042.99 230.52 1043.36C238.73 1043.73 251.04 1044.85 259.63 1044.48C268.21 1044.1 275.3 1041.31 282.01 1041.12C288.73 1040.93 294.7 1042.72 299.93 1043.36C305.15 1043.99 308.13 1044.37 313.36 1044.93C318.58 1045.49 324.55 1046.12 331.27 1046.72C337.99 1047.31 346.94 1048.51 353.66 1048.51C360.37 1048.51 365.97 1047.46 371.57 1046.72C377.16 1045.97 382.01 1045.71 387.24 1044.03C392.46 1042.35 398.06 1038.73 402.91 1036.64C407.76 1034.55 412.24 1032.05 416.34 1031.49C420.45 1030.93 423.81 1032.43 427.54 1033.28C431.27 1034.14 434.25 1035.22 438.73 1036.64C443.21 1038.06 449.18 1041.53 454.4 1041.79C459.63 1042.05 464.85 1039.81 470.07 1038.21C475.3 1036.6 481.27 1034.48 485.75 1032.16C490.22 1029.85 493.58 1027.13 496.94 1024.33C500.3 1021.53 503.28 1019.48 505.9 1015.37C508.51 1011.27 510.37 1005.67 512.61 999.7C514.85 993.73 517.52 984.4 519.33 979.55C521.13 974.7 521.63 974.7 523.43 970.6C525.24 966.49 527.91 959.78 530.15 954.93C532.39 950.07 534.25 945.78 536.87 941.49C539.48 937.2 543.13 932.87 545.82 929.18C549.85 927.37 554.78 924.89 559.25 923.13C563.73 921.38 569.33 920.07 572.69 918.66C576.04 917.24 577.39 915.84 579.4 914.63C581.42 911.4 584.1 907.1 586.12 903.88C587.46 903.61 588.36 903.36 590.6 902.99C592.84 902.61 595.45 901.87 599.55 901.64C603.66 901.42 611.49 901.27 615.22 901.64C618.96 902.01 619.93 903.21 621.94 903.88C623.96 906.77 626.64 910.62 628.66 913.51C630.67 913.31 633.36 913.04 635.37 912.84C638.06 911.36 640.97 909.03 644.33 907.91C647.69 906.79 651.79 906.42 655.52 906.12C659.25 905.82 663.36 906.34 666.72 906.12C670.07 905.9 672.99 905.18 675.67 904.78C677.69 905.85 680.37 907.28 682.39 908.36C686.42 908.22 692.09 908.06 695.82 907.91C699.55 907.76 701.04 907.46 704.78 907.46C708.51 907.46 713.73 907.69 718.21 907.91C722.69 908.13 727.16 908.58 731.64 908.81C736.12 909.03 740.6 909.03 745.07 909.25C749.55 909.48 753.66 909.63 758.51 910.15C763.36 910.67 770.07 911.64 774.18 912.39C778.28 913.13 779.78 913.81 783.13 914.63C786.49 915.45 790.6 916.49 794.33 917.31C798.06 918.13 801.42 918.69 805.52 919.55C809.63 920.41 814.85 921.87 818.96 922.46C823.06 923.06 825.67 922.5 830.15 923.13C834.63 923.77 840.97 925.52 845.82 926.27C850.67 927.01 854.78 926.94 859.25 927.61C863.73 928.28 867.46 929.66 872.69 930.3C877.91 930.93 885.75 931.12 890.6 931.42C895.45 931.72 897.31 931.9 901.79 932.09C906.27 932.28 912.61 932.28 917.46 932.54C922.31 932.8 928.66 933.47 930.9 933.66" stroke="#E5862D" stroke-dasharray="15.6 9.9" stroke-linejoin="round"/>
</g>
<g stroke="#262626" stroke-width="1.35" fill="none">
<rect x="89.8" y="901.7" width="865.8" height="682.6"/>
<path d="M172.22 1584.3v-9.4M172.22 901.7v9.4M254.99 1584.3v-9.4M254.99 901.7v9.4M337.76 1584.3v-9.4M337.76 901.7v9.4M420.53 1584.3v-9.4M420.53 901.7v9.4M503.3 1584.3v-9.4M503.3 901.7v9.4M586.07 1584.3v-9.4M586.07 901.7v9.4M668.84 1584.3v-9.4M668.84 901.7v9.4M751.61 1584.3v-9.4M751.61 901.7v9.4M834.38 1584.3v-9.4M834.38 901.7v9.4M917.15 1584.3v-9.4M917.15 901.7v9.4M89.8 957.22h9.4M955.6 957.22h-9.4M89.8 1055.3h9.4M955.6 1055.3h-9.4M89.8 1153.38h9.4M955.6 1153.38h-9.4M89.8 1251.46h9.4M955.6 1251.46h-9.4M89.8 1349.54h9.4M955.6 1349.54h-9.4M89.8 1447.62h9.4M955.6 1447.62h-9.4M89.8 1545.7h9.4M955.6 1545.7h-9.4"/>
</g>
<g font-family="Liberation Sans, Arial, Helvetica, sans-serif" font-size="26.4" fill="#1a1a1a">
<text transform="translate(172.22 1615.9) scale(1.01 1.07)" text-anchor="middle">10</text>
<text transform="translate(254.99 1615.9) scale(1.01 1.07)" text-anchor="middle">20</text>
<text transform="translate(337.76 1615.9) scale(1.01 1.07)" text-anchor="middle">30</text>
<text transform="translate(420.53 1615.9) scale(1.01 1.07)" text-anchor="middle">40</text>
<text transform="translate(503.3 1615.9) scale(1.01 1.07)" text-anchor="middle">50</text>
<text transform="translate(586.07 1615.9) scale(1.01 1.07)" text-anchor="middle">60</text>
<text transform="translate(668.84 1615.9) scale(1.01 1.07)" text-anchor="middle">70</text>
<text transform="translate(751.61 1615.9) scale(1.01 1.07)" text-anchor="middle">80</text>
<text transform="translate(834.38 1615.9) scale(1.01 1.07)" text-anchor="middle">90</text>
<text transform="translate(917.15 1615.9) scale(1.01 1.07)" text-anchor="middle">100</text>
<text transform="translate(78.1 964.82) scale(1.01 1.07)" text-anchor="end">1</text>
<text transform="translate(78.1 1062.9) scale(1.01 1.07)" text-anchor="end">0</text>
<text transform="translate(78.1 1160.98) scale(1.01 1.07)" text-anchor="end">-1</text>
<text transform="translate(78.1 1259.06) scale(1.01 1.07)" text-anchor="end">-2</text>
<text transform="translate(78.1 1357.14) scale(1.01 1.07)" text-anchor="end">-3</text>
<text transform="translate(78.1 1455.22) scale(1.01 1.07)" text-anchor="end">-4</text>
<text transform="translate(78.1 1553.3) scale(1.01 1.07)" text-anchor="end">-5</text>
</g>
<g font-family="Liberation Sans, Arial, Helvetica, sans-serif" font-size="29.2" fill="#1a1a1a">
<text transform="translate(522.7 1648.7) scale(1 1.03)" text-anchor="middle">Time (min)</text>
<text transform="translate(23.4 1243) rotate(-90) scale(1 1.03)" text-anchor="middle">Percent change in normalised APV of biomass bed (%)</text>
</g>
<text transform="translate(0.5 858.9) scale(1.04 1)" font-family="Liberation Sans, Arial, Helvetica, sans-serif" font-size="28.4" font-weight="bold" fill="#000">c)</text>
<g clip-path="url(#clipd)" fill="none" stroke-width="1.55">
<line x1="1433.53" y1="900.8" x2="1433.53" y2="1584.3" stroke="#3F973C" stroke-width="1.8" stroke-opacity="0.88" stroke-dasharray="1.8 4.57"/>
<line x1="1578.63" y1="900.8" x2="1578.63" y2="1584.3" stroke="#E5862D" stroke-width="1.8" stroke-opacity="0.88" stroke-dasharray="1.8 4.57"/>
<line x1="1682.17" y1="900.8" x2="1682.17" y2="1584.3" stroke="#3F973C" stroke-width="1.8" stroke-opacity="0.88" stroke-dasharray="1.8 4.57"/>
<line x1="1827.35" y1="900.8" x2="1827.35" y2="1584.3" stroke="#E5862D" stroke-width="1.8" stroke-opacity="0.88" stroke-dasharray="1.8 4.57"/>
<path d="M1142.16 1137.76C1143.96 1137.69 1148.88 1138.06 1152.91 1137.31C1156.94 1136.57 1161.49 1134.51 1166.34 1133.28C1171.19 1132.05 1176.42 1130.11 1182.01 1129.93C1187.61 1129.74 1195.07 1132.72 1199.93 1132.16C1204.78 1131.6 1207.01 1128.06 1211.12 1126.57C1215.22 1125.07 1220.82 1123.4 1224.55 1123.21C1228.28 1123.02 1230.15 1123.77 1233.51 1125.45C1236.87 1127.13 1240.6 1131.68 1244.7 1133.28C1248.81 1134.89 1254.03 1135.07 1258.13 1135.07C1262.24 1135.07 1263.73 1133.66 1269.33 1133.28C1274.93 1132.91 1285.75 1133.21 1291.72 1132.84C1297.69 1132.46 1300.3 1131.16 1305.15 1131.04C1310 1130.93 1315.6 1132.24 1320.82 1132.16C1326.04 1132.09 1331.64 1130.86 1336.49 1130.6C1341.34 1130.34 1344.33 1130.52 1349.93 1130.6C1355.52 1130.67 1365.6 1131.9 1370.07 1131.04C1374.55 1130.19 1373.43 1127.69 1376.79 1125.45C1380.15 1123.21 1386.49 1118.73 1390.22 1117.61C1393.96 1116.49 1395.82 1117.69 1399.18 1118.73C1402.54 1119.78 1406.64 1123.51 1410.37 1123.88C1414.1 1124.25 1417.84 1122.57 1421.57 1120.97C1425.3 1119.37 1429.78 1115.63 1432.76 1114.25C1435.75 1112.87 1436.12 1112.43 1439.48 1112.69C1442.84 1112.95 1448.81 1115.07 1452.91 1115.82C1457.01 1116.57 1460 1117.43 1464.1 1117.16C1468.21 1116.9 1474.18 1114.85 1477.54 1114.25C1480.9 1113.66 1481.64 1113.1 1484.25 1113.58C1486.87 1114.07 1490.22 1116.87 1493.21 1117.16C1496.19 1117.46 1499.93 1116.12 1502.16 1115.37C1504.4 1114.63 1504.4 1115.11 1506.64 1112.69C1508.88 1110.26 1511.87 1105.97 1515.6 1100.82C1519.33 1095.67 1524.55 1086.53 1529.03 1081.79C1533.51 1077.05 1538.36 1073.81 1542.46 1072.39C1546.57 1070.97 1549.93 1072.46 1553.66 1073.28C1557.39 1074.1 1561.12 1075.97 1564.85 1077.31C1568.58 1078.66 1573.26 1080.5 1576.04 1081.34C1578.83 1082.19 1578.25 1081.05 1581.57 1082.37C1584.89 1083.69 1591.43 1086.77 1595.96 1089.24C1600.48 1091.72 1604.48 1094.57 1608.75 1097.24C1613.01 1099.9 1618.07 1103.37 1621.53 1105.23C1625 1107.1 1625.8 1107.18 1629.53 1108.43C1633.26 1109.68 1639.39 1111.28 1643.92 1112.75C1648.45 1114.21 1652.71 1115.94 1656.71 1117.22C1660.7 1118.5 1664.43 1119.57 1667.9 1120.42C1671.36 1121.27 1673.76 1121.94 1677.49 1122.34C1681.22 1122.74 1686.55 1122.92 1690.28 1122.82C1694.01 1122.71 1696.41 1121.57 1699.87 1121.7C1703.34 1121.83 1707.87 1122.23 1711.06 1123.62C1714.26 1125 1716.13 1127.35 1719.06 1130.01C1721.99 1132.68 1725.16 1136.67 1728.65 1139.6C1732.14 1142.54 1737.14 1145.92 1740 1147.6C1742.86 1149.28 1742.24 1147.93 1745.82 1149.7C1749.4 1151.47 1757.01 1156.9 1761.49 1158.21C1765.97 1159.51 1769.14 1158.1 1772.69 1157.54C1776.23 1156.98 1781.08 1155.3 1782.76 1154.85" stroke="#3F973C" stroke-linejoin="round"/>
<path d="M1142.16 1137.31C1144.7 1136.46 1151.87 1133.88 1157.39 1132.16C1162.91 1130.45 1170.45 1127.76 1175.3 1127.01C1180.15 1126.27 1182.01 1126.46 1186.49 1127.69C1190.97 1128.92 1197.69 1133.1 1202.16 1134.4C1206.64 1135.71 1209.63 1136.01 1213.36 1135.52C1217.09 1135.04 1220.82 1132.8 1224.55 1131.49C1228.28 1130.19 1231.64 1127.95 1235.75 1127.69C1239.85 1127.43 1245.07 1128.69 1249.18 1129.93C1253.28 1131.16 1256.64 1133.69 1260.37 1135.07C1264.1 1136.46 1267.84 1138.21 1271.57 1138.21C1275.3 1138.21 1277.91 1136.34 1282.76 1135.07C1287.61 1133.81 1295.45 1131.08 1300.67 1130.6C1305.9 1130.11 1309.63 1132.46 1314.1 1132.16C1318.58 1131.87 1323.06 1129.07 1327.54 1128.81C1332.01 1128.54 1335.75 1129.48 1340.97 1130.6C1346.19 1131.72 1354.03 1134.25 1358.88 1135.52C1363.73 1136.79 1365.97 1138.77 1370.07 1138.21C1374.18 1137.65 1379.78 1134.55 1383.51 1132.16C1387.24 1129.78 1389.48 1126.12 1392.46 1123.88C1395.45 1121.64 1397.69 1119.7 1401.42 1118.73C1405.15 1117.76 1410.75 1118.54 1414.85 1118.06C1418.96 1117.57 1421.94 1116.72 1426.04 1115.82C1430.15 1114.93 1435 1114.33 1439.48 1112.69C1443.96 1111.04 1448.81 1108.51 1452.91 1105.97C1457.01 1103.43 1460.37 1099.18 1464.1 1097.46C1467.84 1095.75 1471.94 1094.93 1475.3 1095.67C1478.66 1096.42 1480.9 1098.84 1484.25 1101.94C1487.61 1105.04 1491.72 1111.64 1495.45 1114.25C1499.18 1116.87 1502.54 1117.5 1506.64 1117.61C1510.75 1117.72 1515.97 1116.04 1520.07 1114.93C1524.18 1113.81 1527.16 1112.13 1531.27 1110.9C1535.37 1109.66 1540.97 1108.1 1544.7 1107.54C1548.43 1106.98 1549.93 1106.6 1553.66 1107.54C1557.39 1108.47 1563.36 1111.38 1567.09 1113.13C1570.82 1114.89 1572.57 1117.43 1576.04 1118.06C1579.52 1118.69 1583.84 1117.36 1587.96 1116.9C1592.08 1116.44 1596.49 1115.52 1600.75 1115.3C1605.01 1115.09 1609.28 1115.62 1613.54 1115.62C1617.8 1115.62 1622.6 1115.62 1626.33 1115.3C1630.06 1114.98 1633.26 1114.13 1635.92 1113.71C1638.59 1113.28 1639.65 1112.29 1642.32 1112.75C1644.98 1113.2 1648.71 1115.14 1651.91 1116.42C1655.11 1117.7 1658.04 1119.62 1661.5 1120.42C1664.97 1121.22 1669.76 1121.75 1672.69 1121.22C1675.62 1120.69 1676.96 1118.82 1679.09 1117.22C1681.22 1115.62 1683.09 1113.71 1685.48 1111.63C1687.88 1109.55 1691.08 1106 1693.48 1104.75C1695.88 1103.5 1697.74 1103.5 1699.87 1104.11C1702 1104.73 1703.87 1106.24 1706.27 1108.43C1708.67 1110.61 1711.6 1113.89 1714.26 1117.22C1716.93 1120.55 1719.59 1125.22 1722.25 1128.41C1724.92 1131.61 1727.29 1134.14 1730.25 1136.41C1733.21 1138.67 1738.15 1140.72 1740 1142C1741.85 1143.29 1739.25 1143.64 1741.34 1144.1C1743.43 1144.57 1749.55 1144.4 1752.54 1144.78C1755.52 1145.15 1757.01 1145.34 1759.25 1146.34C1761.49 1147.35 1764.85 1150.07 1765.97 1150.82" stroke="#3F973C" stroke-dasharray="15.6 9.9" stroke-dashoffset="-7.5" stroke-linejoin="round"/>
<path d="M1147.31 1142.24C1148.99 1143.54 1153.84 1147.16 1157.39 1150.07C1160.93 1152.99 1165.22 1156.81 1168.58 1159.7C1172.61 1158.16 1177.16 1157.91 1182.01 1154.55C1186.87 1151.19 1193.21 1143.54 1197.69 1139.55C1202.16 1135.56 1205.15 1132.57 1208.88 1130.6C1212.61 1128.62 1216.72 1127.99 1220.07 1127.69C1223.43 1127.39 1225.3 1127.87 1229.03 1128.81C1232.76 1129.74 1238.36 1132.35 1242.46 1133.28C1246.57 1134.22 1249.18 1134.7 1253.66 1134.4C1258.13 1134.1 1264.48 1131.75 1269.33 1131.49C1274.18 1131.23 1279.03 1132.24 1282.76 1132.84C1286.49 1133.43 1287.99 1135.19 1291.72 1135.07C1295.45 1134.96 1300.3 1133.88 1305.15 1132.16C1310 1130.45 1316.72 1126.08 1320.82 1124.78C1324.93 1123.47 1325.3 1123.84 1329.78 1124.33C1334.25 1124.81 1340.97 1127.01 1347.69 1127.69C1354.4 1128.36 1364.48 1127.72 1370.07 1128.36C1375.67 1128.99 1377.16 1130.3 1381.27 1131.49C1385.37 1132.69 1390.97 1134.85 1394.7 1135.52C1398.43 1136.19 1401.04 1135.9 1403.66 1135.52C1406.27 1135.15 1407.39 1134.96 1410.37 1133.28C1413.36 1131.6 1417.84 1128.62 1421.57 1125.45C1425.3 1122.28 1429.03 1118.17 1432.76 1114.25C1436.49 1110.34 1440.97 1105.86 1443.96 1101.94C1446.94 1098.02 1448.43 1094.29 1450.67 1090.75C1452.91 1087.2 1455.15 1083.17 1457.39 1080.67C1459.63 1078.17 1461.87 1076.01 1464.1 1075.75C1466.34 1075.49 1468.58 1074.74 1470.82 1079.1C1473.06 1083.47 1475.3 1094.4 1477.54 1101.94C1479.78 1109.48 1482.01 1114.63 1484.25 1124.33C1486.49 1134.03 1489.32 1150.87 1490.97 1160.15C1492.62 1169.43 1491.65 1164.9 1494.15 1180C1496.64 1195.1 1502.01 1225.19 1505.94 1250.74C1509.87 1276.28 1513.8 1305.76 1517.73 1333.27C1521.66 1360.78 1525.98 1390.25 1529.52 1415.8C1533.05 1441.34 1536.09 1466.27 1538.95 1486.54C1541.81 1506.81 1544.35 1522.15 1546.67 1537.41C1548.7 1544.44 1551.42 1553.83 1553.46 1560.86C1555.59 1564.29 1558.43 1568.86 1560.56 1572.28C1562.59 1572.56 1565.31 1572.93 1567.35 1573.21C1569.48 1572.38 1572.31 1571.27 1574.44 1570.43C1576.48 1570.9 1578.97 1571.31 1581.23 1571.98C1583.5 1572.64 1585.99 1573.7 1588.02 1574.44C1590.25 1577.41 1593.21 1581.36 1595.43 1584.32C1597.38 1584.14 1599.97 1583.89 1601.91 1583.7C1604.04 1579.26 1606.88 1573.33 1609.01 1568.89C1611.05 1559.63 1613.77 1547.28 1615.8 1538.02C1618.21 1515.5 1621.32 1487.26 1623.84 1462.96C1626.36 1438.66 1628.75 1413.83 1630.91 1392.22C1633.07 1370.6 1634.84 1350.17 1636.81 1333.27C1638.77 1316.37 1640.54 1304.97 1642.7 1290.83C1644.86 1276.68 1647.42 1261.55 1649.77 1248.38C1652.13 1235.22 1654.49 1220.09 1656.85 1211.83C1659.21 1203.58 1661.56 1202.4 1663.92 1198.86C1666.28 1195.33 1668.64 1192.65 1671 1190.61C1673.35 1188.57 1676.03 1187.39 1678.07 1186.6C1680.11 1185.82 1680.92 1187.19 1683.26 1185.89C1685.59 1184.6 1688.75 1180.92 1692.09 1178.81C1695.43 1176.69 1699.18 1175 1703.28 1173.21C1707.39 1171.42 1712.24 1169.66 1716.72 1168.06C1721.19 1166.46 1725.67 1165.34 1730.15 1163.58C1734.63 1161.83 1739.48 1159.66 1743.58 1157.54C1747.69 1155.41 1751.04 1152.87 1754.78 1150.82C1758.51 1148.77 1762.61 1146.83 1765.97 1145.22C1769.33 1143.62 1771.94 1142.13 1774.93 1141.19C1777.91 1140.26 1780.9 1139.51 1783.88 1139.63C1786.87 1139.74 1789.1 1140 1792.84 1141.87C1796.57 1143.73 1801.79 1147.84 1806.27 1150.82C1810.75 1153.81 1815.97 1157.91 1819.7 1159.78C1823.43 1161.64 1824.93 1161.08 1828.66 1162.01C1832.39 1162.95 1837.61 1163.62 1842.09 1165.37C1846.57 1167.13 1851.04 1170 1855.52 1172.54C1860 1175.07 1865.22 1178.73 1868.96 1180.6C1872.69 1182.46 1874.93 1183.21 1877.91 1183.73C1880.9 1184.25 1882.76 1184.55 1886.87 1183.73C1890.97 1182.91 1897.31 1180.67 1902.54 1178.81C1907.76 1176.94 1912.61 1175.15 1918.21 1172.54C1923.81 1169.93 1930.9 1166.19 1936.12 1163.13C1941.34 1160.07 1945.07 1156.42 1949.55 1154.18C1954.03 1151.94 1958.51 1150.37 1962.99 1149.7C1967.46 1149.03 1971.94 1149.78 1976.42 1150.15C1980.9 1150.52 1985.75 1151.72 1989.85 1151.94C1993.96 1152.16 1997.87 1151.68 2001.04 1151.49C2004.22 1151.31 2007.57 1150.93 2008.88 1150.82" stroke="#E5862D" stroke-linejoin="round"/>
<path d="M1148.43 1136.64C1151.04 1136.08 1158.88 1134.51 1164.1 1133.28C1169.33 1132.05 1175.67 1130.45 1179.78 1129.25C1183.88 1128.06 1185.37 1127.24 1188.73 1126.12C1192.09 1125 1195.82 1123.77 1199.93 1122.54C1204.03 1121.31 1209.33 1119.87 1213.36 1118.73C1216.72 1120.41 1221.19 1122.65 1224.55 1124.33C1227.91 1126.01 1229.78 1127.31 1233.51 1128.81C1237.24 1130.3 1242.46 1132.84 1246.94 1133.28C1251.42 1133.73 1256.27 1132.61 1260.37 1131.49C1264.48 1130.37 1267.84 1127.95 1271.57 1126.57C1275.3 1125.19 1279.4 1124.22 1282.76 1123.21C1286.12 1125.56 1290.22 1128.43 1293.96 1131.04C1297.69 1133.66 1301.42 1136.83 1305.15 1138.88C1308.88 1140.93 1312.99 1142.01 1316.34 1143.36C1318.36 1143.02 1319.7 1143.54 1323.06 1142.24C1326.42 1140.93 1332.01 1137.76 1336.49 1135.52C1340.97 1133.28 1345.9 1130.82 1349.93 1128.81C1352.61 1130.15 1355.52 1129.93 1358.88 1133.28C1362.24 1136.64 1365.97 1144.66 1370.07 1148.96C1374.18 1153.25 1379.48 1156.01 1383.51 1159.03C1386.19 1158.69 1387.99 1160.71 1392.46 1157.91C1396.94 1155.11 1405.52 1146.34 1410.37 1142.24C1415.22 1138.13 1417.84 1135.45 1421.57 1133.28C1425.3 1131.12 1429.03 1130.75 1432.76 1129.25C1436.49 1127.76 1440.6 1126.27 1443.96 1124.33C1447.31 1122.39 1449.93 1120.41 1452.91 1117.61C1455.9 1114.81 1458.88 1110.52 1461.87 1107.54C1464.85 1104.55 1467.84 1101.38 1470.82 1099.7C1473.81 1098.02 1477.16 1096.34 1479.78 1097.46C1482.39 1098.58 1484.25 1101.94 1486.49 1106.42C1488.73 1110.9 1490.6 1117.99 1493.21 1124.33C1495.82 1130.67 1499.18 1138.88 1502.16 1144.48C1505.15 1150.07 1508.51 1155.11 1511.12 1157.91C1513.73 1160.71 1515.22 1162.39 1517.84 1161.27C1520.45 1160.15 1523.43 1156.6 1526.79 1151.19C1530.15 1145.78 1535.38 1134.47 1537.99 1128.81C1540.59 1123.14 1539.66 1122.88 1542.4 1117.22C1545.13 1111.56 1551.32 1101.24 1554.39 1094.84C1557.45 1088.45 1558.52 1087.11 1560.78 1078.85C1563.05 1070.59 1565.85 1055.41 1567.98 1045.28C1570.11 1035.15 1571.71 1027.69 1573.57 1018.1C1575.44 1008.51 1577.57 997.58 1579.17 987.73C1580.77 977.87 1581.97 966.41 1583.17 958.95C1584.36 951.49 1585.16 949.62 1586.36 942.96C1587.56 936.3 1588.76 925.11 1590.36 918.98C1591.96 912.85 1594.09 908.46 1595.96 906.19C1597.82 903.93 1600.09 904.99 1601.55 905.39C1603.02 905.79 1603.82 906.32 1604.75 908.59C1605.68 910.85 1605.95 912.99 1607.15 918.98C1608.35 924.98 1610.34 935.77 1611.94 944.56C1613.54 953.35 1615.14 961.35 1616.74 971.74C1618.34 982.13 1619.94 995.72 1621.53 1006.91C1623.13 1018.1 1624.6 1028.63 1626.33 1038.88C1628.06 1049.14 1630.25 1059.59 1631.93 1068.46C1634.08 1071.58 1636.86 1076.32 1639.12 1078.85C1641.39 1081.38 1643.6 1082.21 1645.52 1083.65C1646.95 1082.69 1648.05 1082.45 1650.31 1080.45C1652.58 1078.45 1656.47 1074.3 1659.1 1071.66C1661.26 1075.26 1664.03 1078.99 1666.3 1083.65C1668.56 1088.31 1670.96 1094.57 1672.69 1099.64C1674.43 1104.7 1675.36 1109.23 1676.69 1114.02C1678.02 1118.82 1678.96 1122.02 1680.69 1128.41C1682.42 1134.81 1684.95 1146.53 1687.08 1152.39C1689.21 1158.26 1691.21 1160.79 1693.48 1163.59C1695.74 1166.38 1698.51 1167.5 1700.67 1169.18C1702.35 1165.58 1704.27 1162.12 1706.27 1157.19C1708.27 1152.26 1710.53 1144.93 1712.66 1139.6C1714.79 1134.28 1716.79 1128.68 1719.06 1125.22C1721.32 1121.75 1724.09 1120.74 1726.25 1118.82C1728.41 1120.74 1731.15 1123.08 1733.45 1125.22C1735.74 1127.35 1738.31 1129.4 1740 1131.61C1741.69 1133.83 1741.87 1136.43 1743.58 1138.51C1745.3 1140.59 1748.06 1142.8 1750.3 1144.1C1752.54 1145.41 1754.4 1146.6 1757.01 1146.34C1759.63 1146.08 1762.99 1143.84 1765.97 1142.54C1768.96 1141.23 1771.94 1139.37 1774.93 1138.51C1777.91 1137.65 1780.52 1137.2 1783.88 1137.39C1787.24 1137.57 1791.34 1139.07 1795.07 1139.63C1798.81 1140.19 1802.54 1140.37 1806.27 1140.75C1810 1141.12 1813.73 1141.31 1817.46 1141.87C1821.19 1142.43 1824.93 1142.72 1828.66 1144.1C1832.39 1145.49 1836.12 1147.91 1839.85 1150.15C1843.58 1152.39 1847.31 1155.82 1851.04 1157.54C1854.78 1159.25 1858.51 1159.89 1862.24 1160.45C1865.97 1161.01 1869.7 1161.19 1873.43 1160.9C1877.16 1160.6 1880.9 1159.59 1884.63 1158.66C1888.36 1157.72 1892.09 1156.04 1895.82 1155.3C1899.55 1154.55 1903.28 1154.29 1907.01 1154.18C1910.75 1154.07 1914.48 1154.48 1918.21 1154.63C1921.94 1154.78 1925.67 1155.22 1929.4 1155.07C1933.13 1154.93 1936.49 1154.81 1940.6 1153.73C1944.7 1152.65 1949.55 1150 1954.03 1148.58C1958.51 1147.16 1962.99 1146.08 1967.46 1145.22C1971.94 1144.37 1978.66 1143.73 1980.9 1143.43" stroke="#E5862D" stroke-dasharray="15.6 9.9" stroke-linejoin="round"/>
</g>
<g stroke="#262626" stroke-width="1.35" fill="none">
<rect x="1142.3" y="901.7" width="865.5" height="682.6"/>
<path d="M1224.62 1584.3v-9.4M1224.62 901.7v9.4M1307.39 1584.3v-9.4M1307.39 901.7v9.4M1390.16 1584.3v-9.4M1390.16 901.7v9.4M1472.93 1584.3v-9.4M1472.93 901.7v9.4M1555.7 1584.3v-9.4M1555.7 901.7v9.4M1638.47 1584.3v-9.4M1638.47 901.7v9.4M1721.24 1584.3v-9.4M1721.24 901.7v9.4M1804.01 1584.3v-9.4M1804.01 901.7v9.4M1886.78 1584.3v-9.4M1886.78 901.7v9.4M1969.55 1584.3v-9.4M1969.55 901.7v9.4M1142.3 944.9h9.4M2007.8 944.9h-9.4M1142.3 1008.97h9.4M2007.8 1008.97h-9.4M1142.3 1073.03h9.4M2007.8 1073.03h-9.4M1142.3 1137.1h9.4M2007.8 1137.1h-9.4M1142.3 1201.16h9.4M2007.8 1201.16h-9.4M1142.3 1265.23h9.4M2007.8 1265.23h-9.4M1142.3 1329.29h9.4M2007.8 1329.29h-9.4M1142.3 1393.36h9.4M2007.8 1393.36h-9.4M1142.3 1457.42h9.4M2007.8 1457.42h-9.4M1142.3 1521.49h9.4M2007.8 1521.49h-9.4"/>
</g>
<g font-family="Liberation Sans, Arial, Helvetica, sans-serif" font-size="26.4" fill="#1a1a1a">
<text transform="translate(1224.62 1615.9) scale(1.01 1.07)" text-anchor="middle">10</text>
<text transform="translate(1307.39 1615.9) scale(1.01 1.07)" text-anchor="middle">20</text>
<text transform="translate(1390.16 1615.9) scale(1.01 1.07)" text-anchor="middle">30</text>
<text transform="translate(1472.93 1615.9) scale(1.01 1.07)" text-anchor="middle">40</text>
<text transform="translate(1555.7 1615.9) scale(1.01 1.07)" text-anchor="middle">50</text>
<text transform="translate(1638.47 1615.9) scale(1.01 1.07)" text-anchor="middle">60</text>
<text transform="translate(1721.24 1615.9) scale(1.01 1.07)" text-anchor="middle">70</text>
<text transform="translate(1804.01 1615.9) scale(1.01 1.07)" text-anchor="middle">80</text>
<text transform="translate(1886.78 1615.9) scale(1.01 1.07)" text-anchor="middle">90</text>
<text transform="translate(1969.55 1615.9) scale(1.01 1.07)" text-anchor="middle">100</text>
<text transform="translate(1130.6 952.5) scale(1.01 1.07)" text-anchor="end">0.15</text>
<text transform="translate(1130.6 1016.57) scale(1.01 1.07)" text-anchor="end">0.1</text>
<text transform="translate(1130.6 1080.63) scale(1.01 1.07)" text-anchor="end">0.05</text>
<text transform="translate(1130.6 1144.7) scale(1.01 1.07)" text-anchor="end">0</text>
<text transform="translate(1130.6 1208.76) scale(1.01 1.07)" text-anchor="end">-0.05</text>
<text transform="translate(1130.6 1272.83) scale(1.01 1.07)" text-anchor="end">-0.1</text>
<text transform="translate(1130.6 1336.89) scale(1.01 1.07)" text-anchor="end">-0.15</text>
<text transform="translate(1130.6 1400.96) scale(1.01 1.07)" text-anchor="end">-0.2</text>
<text transform="translate(1130.6 1465.02) scale(1.01 1.07)" text-anchor="end">-0.25</text>
<text transform="translate(1130.6 1529.09) scale(1.01 1.07)" text-anchor="end">-0.3</text>
</g>
<g font-family="Liberation Sans, Arial, Helvetica, sans-serif" font-size="29.2" fill="#1a1a1a">
<text transform="translate(1575.05 1648.7) scale(1 1.03)" text-anchor="middle">Time (min)</text>
<text transform="translate(1054.8 1243) rotate(-90) scale(1 1.03)" text-anchor="middle">Rate of normalised bed APV change (%/min)</text>
</g>
<text transform="translate(1050.5 858.9) scale(1.04 1)" font-family="Liberation Sans, Arial, Helvetica, sans-serif" font-size="28.4" font-weight="bold" fill="#000">d)</text>
<text x="1003.2" y="1702.4" text-anchor="middle" font-family="Liberation Sans, Arial, Helvetica, sans-serif" font-size="23.3" font-weight="bold" fill="#000">Feedstock &amp; peak pyrolysis temperature</text>
<g fill="none" stroke-width="1.55">
<line x1="669.3" y1="1737.4" x2="748.9" y2="1737.4" stroke="#3F973C"/>
<line x1="669.3" y1="1770.5" x2="748.9" y2="1770.5" stroke="#3F973C" stroke-dasharray="15.6 9.9"/>
<line x1="1014" y1="1737.4" x2="1093.5" y2="1737.4" stroke="#E5862D"/>
<line x1="1014" y1="1770.5" x2="1093.5" y2="1770.5" stroke="#E5862D" stroke-dasharray="15.6 9.9"/>
</g>
<g font-family="Liberation Sans, Arial, Helvetica, sans-serif" font-size="23.76" fill="#1a1a1a">
<text x="756.4" y="1747.7">Almond shells - 250 °C</text>
<text x="756.4" y="1779.2">Walnut shells - 250 °C</text>
<text x="1100.5" y="1747.7">Almond shells - 350 °C</text>
<text x="1100.5" y="1779.2">Walnut shells - 350 °C</text>
</g>
</svg>
</body></html>
